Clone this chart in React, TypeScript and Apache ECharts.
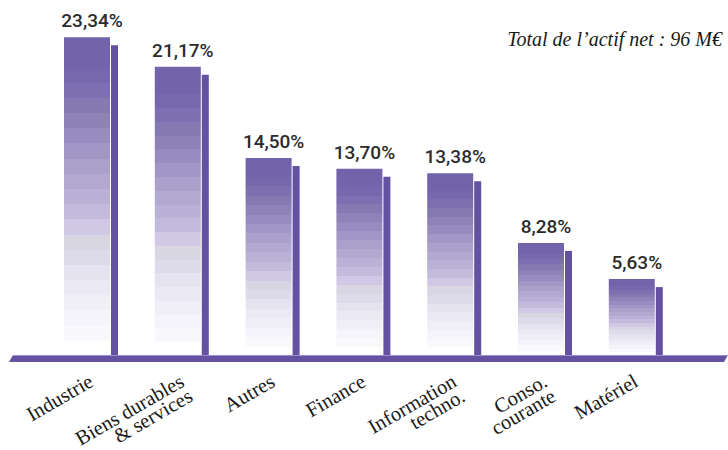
import React, { useEffect, useRef } from "react";
import * as echarts from "echarts";

const categories = [
  "Industrie",
  "Biens durables\n& services",
  "Autres",
  "Finance",
  "Information\ntechno.",
  "Conso.\ncourante",
  "Matériel",
];
const weights = [23.34, 21.17, 14.5, 13.7, 13.38, 8.28, 5.63];
const titleText = "Total de l’actif net : 96 M€";

const BAND_COLORS = [
  "#7263ab", "#7263ab", "#7768ad", "#7d6fb0", "#8579b3", "#8e82b9", "#978bc0",
  "#a196c6", "#aaa0cb", "#b2a9d1", "#bab2d6", "#c3bbdc", "#d0c8e5", "#d8d6e3",
  "#dddbe9", "#e5e3f0", "#ebe9f5", "#f0eff8", "#f5f4fa", "#f9f8fd", "#ffffff",
];

function bandStops() {
  const n = BAND_COLORS.length;
  const stops: { offset: number; color: string }[] = [];
  BAND_COLORS.forEach((c, i) => {
    stops.push({ offset: i / n, color: c });
    stops.push({ offset: (i + 1) / n - 0.0001, color: c });
  });
  return stops;
}

const fmt = (v: number) => v.toFixed(2).replace(".", ",") + "%";

export default function App() {
  const ref = useRef<HTMLDivElement>(null);
  useEffect(() => {
    if (!ref.current) return;
    const chart = echarts.init(ref.current, null, { renderer: "svg" });
    const stops = bandStops();
    const SHIFT = 4;
    chart.setOption({
      animation: false,
      backgroundColor: "#ffffff",
      grid: {
        left: 41.6,
        right: 50.8,
        top: 14.5,
        bottom: 94,
        containLabel: false,
        outerBoundsMode: "none",
      },
      xAxis: {
        type: "category",
        data: categories,
        axisLine: { show: false },
        axisTick: { show: false },
        splitLine: { show: false },
        axisLabel: {
          interval: 0,
          rotate: 30,
          margin: 16,
          verticalAlign: "top",
          fontFamily: "Liberation Serif",
          fontSize: 20.5,
          lineHeight: 17,
          color: "#1a1a1a",
        },
      },
      yAxis: {
        type: "value",
        min: 0,
        max: 25,
        show: false,
        splitLine: { show: false },
      },
      graphic: [
        {
          type: "polygon",
          shape: {
            points: [
              [13, 355],
              [728, 355],
              [724, 362],
              [9, 362],
            ],
          },
          style: { fill: "#6552a2" },
          z: 10,
        },
        {
          type: "line",
          shape: { x1: 13, y1: 355.5, x2: 728, y2: 355.5 },
          style: { stroke: "#9c8fcb", lineWidth: 1 },
          z: 11,
        },
        {
          type: "text",
          x: 722,
          y: 39,
          style: {
            text: titleText,
            align: "right",
            verticalAlign: "middle",
            fontFamily: "Liberation Serif",
            fontStyle: "italic",
            fontSize: 20,
            fill: "#1a1a1a",
          },
        },
      ],
      series: [
        {
          type: "custom",
          data: weights.map((v, i) => [i, v]),
          encode: { x: 0, y: 1 },
          z: 5,
          renderItem: (params: any, api: any) => {
            const idx = api.value(0);
            const v = api.value(1);
            const top = api.coord([idx, v]);
            const base = api.coord([idx, 0]);
            const cx = top[0] + SHIFT;
            return {
              type: "group",
              children: [
                {
                  type: "rect",
                  shape: { x: cx - 27, y: top[1], width: 46, height: base[1] - top[1] },
                  style: {
                    fill: new echarts.graphic.LinearGradient(0, 0, 0, 1, stops),
                  },
                },
                {
                  type: "rect",
                  shape: { x: cx + 20, y: top[1] + 8, width: 7, height: base[1] + 3 - (top[1] + 8) },
                  style: { fill: "#6551a1" },
                },
                {
                  type: "text",
                  x: cx + 1,
                  y: top[1] - 7,
                  style: {
                    text: fmt(v),
                    align: "center",
                    verticalAlign: "bottom",
                    fontFamily: "Roboto",
                    fontWeight: 500,
                    fontSize: 19,
                    fill: "#2b2b2b",
                  },
                },
              ],
            };
          },
        },
      ],
    });
    return () => chart.dispose();
  }, []);
  return (
    <div
      ref={ref}
      style={{ position: "fixed", left: 0, top: 0, width: 728, height: 450 }}
    />
  );
}
